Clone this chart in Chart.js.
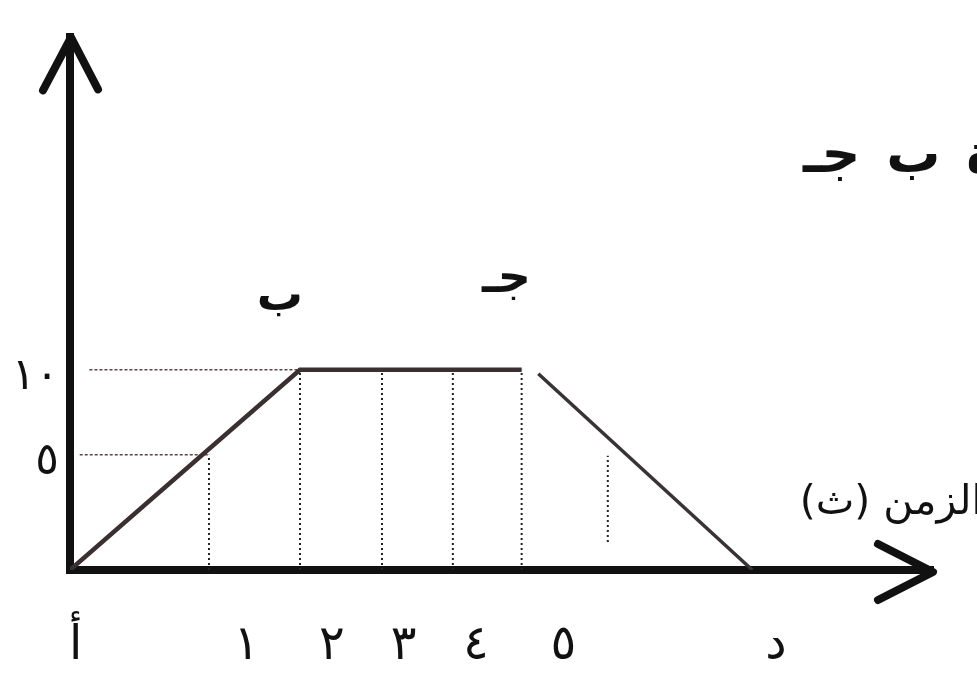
<!DOCTYPE html>
<html>
<head>
<meta charset="utf-8">
<script src="https://cdn.jsdelivr.net/npm/chart.js@4/dist/chart.umd.min.js"></script>
<style>
  html, body { margin: 0; padding: 0; background: #fff; }
  #box { width: 977px; height: 681px; }
</style>
</head>
<body>
<div id="box"><canvas id="chart" width="977" height="681"></canvas></div>
<script>
// tick labels, placed where the drawing puts them (diagram units)
var timeTicks = ['أ', '١', '٢', '٣', '٤', '٥', 'د'];
var timeTickAt = [0.04, 1.27, 1.885, 2.40, 2.92, 3.55, 5.08];
var speedTicks = ['٥', '١٠'];
var speedTickAt = [5.75, 10];

// the speed-time path: rise a -> b, flat b -> c, then the fall to d
var pathT = [0, 1.655, 3.25];
var pathV = [0, 10, 10];
var fallT = [3.37, 4.91];
var fallV = [9.8, 0];

// dotted drop lines down to the time axis
var dropT = [1, 1.655, 2.245, 2.755, 3.25, 3.87];
var dropFrom = [0, 0, 0, 0, 0, 1.4];
var dropTo = [5.75, 10, 10, 10, 10, 5.7];

// dashed level lines across to the speed axis
var levelV = [5.75, 10];
var levelFrom = [0.07, 0.14];
var levelTo = [1, 1.655];

// point names over the path
var pointNames = ['ب', 'جـ'];
var pointNameT = [1.51, 3.14];
var pointNameV = [13.6, 14.5];

var tMax = 6.21;
var vMax = 26.6;

var font = "'DejaVu Sans', sans-serif";
var ink = '#111111';

function toXY(xs, ys) {
    var out = [];
    for (var i = 0; i < xs.length; i++) {
        out.push({x: xs[i], y: ys[i]});
    }
    return out;
}

var datasets = [];

datasets.push({
    data: toXY(pathT, pathV),
    borderColor: '#3a2f31',
    borderWidth: 4.5
});
datasets.push({
    data: toXY(fallT, fallV),
    borderColor: '#3a3334',
    borderWidth: 3.5
});

for (var i = 0; i < dropT.length; i++) {
    datasets.push({
        data: toXY([dropT[i], dropT[i]], [dropFrom[i], dropTo[i]]),
        borderColor: '#222',
        borderWidth: 2,
        borderDash: [2, 3]
    });
}
for (var j = 0; j < levelV.length; j++) {
    datasets.push({
        data: toXY([levelFrom[j], levelTo[j]], [levelV[j], levelV[j]]),
        borderColor: '#5a4446',
        borderWidth: 1.5,
        borderDash: [3, 2]
    });
}

// arrows, point names and the loose texts
var extras = {
    id: 'extras',
    afterDraw: function (chart) {
        var ctx = chart.ctx;
        var xs = chart.scales.x, ys = chart.scales.y;
        var ox = xs.getPixelForValue(0), oy = ys.getPixelForValue(0);
        var tipX = xs.getPixelForValue(tMax), tipY = ys.getPixelForValue(vMax);

        ctx.save();
        ctx.strokeStyle = ink;
        ctx.lineWidth = 8;
        ctx.lineCap = 'round';
        ctx.lineJoin = 'round';

        // speed axis arrow head
        ctx.beginPath();
        ctx.moveTo(ox - 27, tipY + 53);
        ctx.lineTo(ox + 1, tipY);
        ctx.lineTo(ox + 28, tipY + 52);
        ctx.stroke();

        // time axis arrow head
        ctx.beginPath();
        ctx.moveTo(tipX - 55, oy - 26);
        ctx.lineTo(tipX, oy + 2);
        ctx.lineTo(tipX - 55, oy + 30);
        ctx.stroke();

        // b and c
        ctx.fillStyle = ink;
        ctx.font = 'bold 46px ' + font;
        ctx.textAlign = 'center';
        ctx.textBaseline = 'middle';
        for (var k = 0; k < pointNames.length; k++) {
            ctx.fillText(pointNames[k], xs.getPixelForValue(pointNameT[k]), ys.getPixelForValue(pointNameV[k]));
        }

        // cut-off caption at the top right
        ctx.font = 'bold 54px ' + font;
        ctx.textAlign = 'left';
        ctx.wordSpacing = '7px';
        ctx.fillText('الفترة ب جـ', 803, 158);
        ctx.wordSpacing = '0px';

        // time axis title
        ctx.font = '41px ' + font;
        ctx.textAlign = 'right';
        ctx.fillText('الزمن (ث)', 983, 503);
        ctx.restore();
    }
};

new Chart(document.getElementById('chart'), {
    type: 'line',
    data: { datasets: datasets },
    options: {
        responsive: false,
        animation: false,
        events: [],
        layout: { padding: { top: 33, right: 44, left: 0, bottom: 0 } },
        elements: { point: { radius: 0 }, line: { tension: 0, fill: false } },
        plugins: { legend: { display: false }, tooltip: { enabled: false } },
        scales: {
            x: {
                type: 'linear',
                min: 0,
                max: tMax,
                afterFit: function (s) { s.height = 111; },
                afterBuildTicks: function (s) {
                    s.ticks = timeTickAt.map(function (v) { return {value: v}; });
                },
                grid: { display: false, drawTicks: false },
                border: { display: true, color: ink, width: 8 },
                ticks: {
                    autoSkip: false,
                    maxRotation: 0,
                    padding: 48,
                    color: ink,
                    font: { family: font, size: 48 },
                    callback: function (v, i) { return timeTicks[i]; }
                }
            },
            y: {
                type: 'linear',
                min: 0,
                max: vMax,
                afterFit: function (s) { s.width = 70; },
                afterBuildTicks: function (s) {
                    s.ticks = speedTickAt.map(function (v) { return {value: v}; });
                },
                grid: { display: false, drawTicks: false },
                border: { display: true, color: ink, width: 8 },
                ticks: {
                    autoSkip: false,
                    padding: 11,
                    labelOffset: 8,
                    color: ink,
                    font: { family: font, size: 44 },
                    callback: function (v, i) { return speedTicks[i]; }
                }
            }
        }
    },
    plugins: [extras]
});
</script>
</body>
</html>
